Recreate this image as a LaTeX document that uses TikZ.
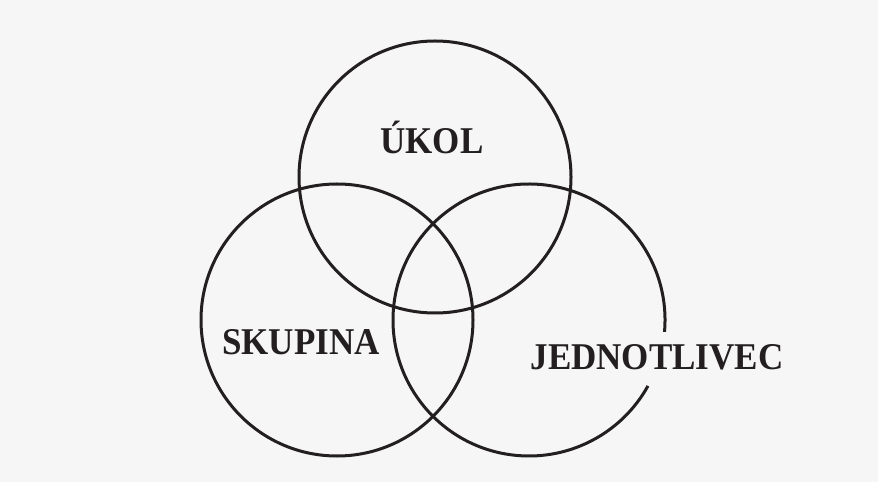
\documentclass[tikz,border=0pt]{standalone}
\usepackage{fontspec}
\setmainfont{Liberation Serif}
\usepackage{xcolor}
\usetikzlibrary{positioning}

\definecolor{paper}{RGB}{246,246,246}
\definecolor{ink}{RGB}{35,31,32}

\begin{document}
\begin{tikzpicture}[x=1pt, y=1pt,
    setcircle/.style={circle, draw=ink, line width=3pt, minimum size=272pt, inner sep=0pt},
    setline/.style={draw=ink, line width=3pt},
    setlabel/.style={text=ink, font=\fontsize{35}{35}\selectfont\bfseries, inner sep=0pt, yscale=1.08, transform shape},
]

% Page
\fill[paper] (0,0) rectangle (878,482);
\useasboundingbox (0,0) rectangle (878,482);

% Circles
\node[setcircle] (task) at (435,305) {};
\node[setcircle] (group) at (337,162) {};
\coordinate (indiv) at (529,162);
\draw[setline] ([shift={(-5:136pt)}]indiv) arc[start angle=-5, end angle=331, radius=136pt];

% Labels
\node[setlabel] (tasklabel) at (432,345) {ÚKOL};
\node[setlabel] (grouplabel) at (301,140) {SKUPINA};
\node[setlabel] (indivlabel) at (657,125) {JEDNOTLIVEC};

\end{tikzpicture}
\end{document}
